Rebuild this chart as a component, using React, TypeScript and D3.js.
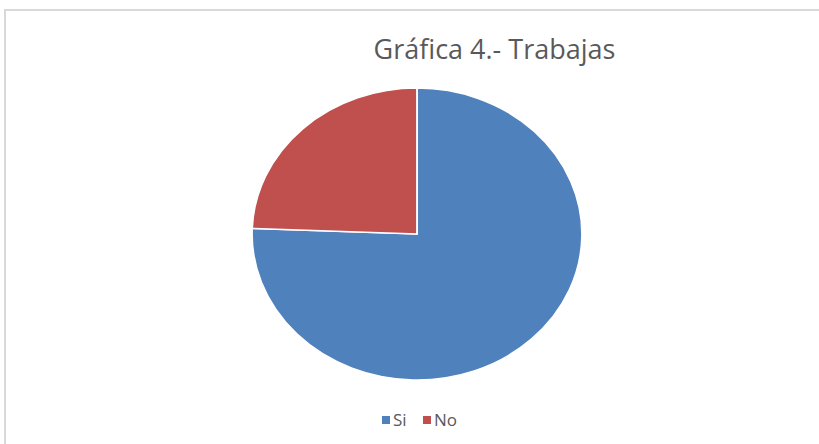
import React from 'react'
import * as d3 from 'd3'

// answers and counts
const categories = ['Si', 'No']
const values = [31, 10]
const colors = ['#4F81BD', '#C0504D']
const title = 'Gráfica 4.- Trabajas'

const W = 819
const H = 444

const App = () => {
  const cx = 417
  const cy = 234
  const ry = 146
  const rx = 165

  const pie = d3
    .pie<number>()
    .sort(null)
    .value((d) => d)
  const arcs = pie(values)
  const arc = d3.arc<d3.PieArcDatum<number>>().innerRadius(0).outerRadius(ry)

  const legendX = d3.scalePoint<string>().domain(categories).range([382, 423])

  return (
    <svg
      width={W}
      height={H}
      style={{ position: 'absolute', left: 0, top: 0, background: '#fff' }}
      fontFamily="'Open Sans', sans-serif"
    >
      <rect x={5} y={10} width={W + 10} height={H + 10} fill="#fff" stroke="#d9d9d9" strokeWidth={2} />
      <text x={494.5} y={59} textAnchor="middle" fontSize={27} fill="#595959">
        {title}
      </text>
      <g transform={`translate(${cx},${cy}) scale(${rx / ry},1)`}>
        {arcs.map((a, i) => (
          <path key={categories[i]} d={arc(a) || ''} fill={colors[i]} stroke="#fff" strokeWidth={1.6} />
        ))}
      </g>
      <g>
        {categories.map((c, i) => (
          <g key={c} transform={`translate(${legendX(c)},420)`}>
            <rect x={0} y={-4} width={8} height={8} fill={colors[i]} />
            <text x={11} y={6} fontSize={17} fill="#595959">
              {c}
            </text>
          </g>
        ))}
      </g>
    </svg>
  )
}

export default App
